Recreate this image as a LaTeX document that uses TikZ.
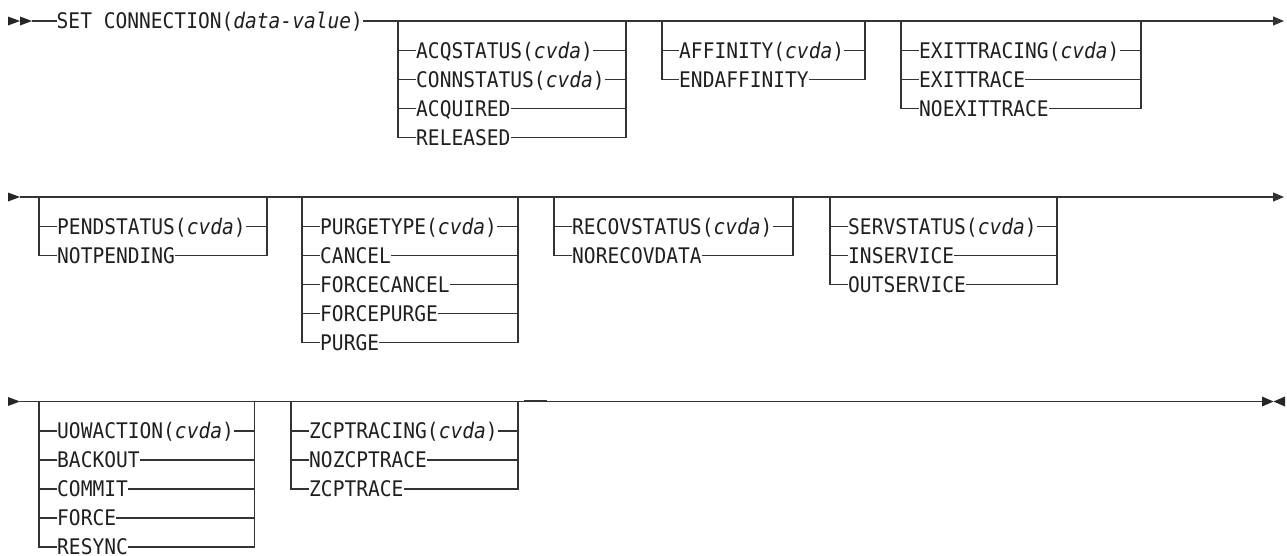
\documentclass[tikz,border=0pt]{standalone}
\usepackage{fontspec}
\newfontfamily\railfont{DejaVu Sans Mono}[FakeStretch=0.91]
\usetikzlibrary{arrows.meta}

\begin{document}
\begin{tikzpicture}[x=1pt, y=-1pt, font=\railfont\fontsize{21.5}{24}\selectfont,
  rail/.style={draw=black!80, line width=1.1pt},
  kw/.style={inner sep=0pt, anchor=west, text height=15.7pt, text depth=0pt, text=black!88},
  tip/.style={fill=black!85}]
  \useasboundingbox (0,0) rectangle (1287,555);
  % row 1
  \fill[tip] (8,16.5) -- (20,21) -- (8,25.5) -- cycle;
  \fill[tip] (20,16.5) -- (32,21) -- (20,25.5) -- cycle;
  \coordinate (start1) at (32,21); \coordinate (end1) at (1284,21);
  \node[kw] (setconn) at (56.5,21) {SET CONNECTION(\textit{data-value})};
  \draw[rail] (start1) -- (setconn.west);
  \draw[rail, -{Triangle[length=11pt,width=9pt]}] (setconn.east) -- (end1);
  \coordinate (g1l) at (398,21); \coordinate (g1r) at (626,21);
  \node[kw] (acqstatus) at (416,50.5) {ACQSTATUS(\textit{cvda})};
  \node[kw] (connstatus) at (416,79.5) {CONNSTATUS(\textit{cvda})};
  \node[kw] (acquired) at (416,108.5) {ACQUIRED};
  \node[kw] (released) at (416,137.5) {RELEASED};
  \draw[rail] (g1l) |- (released.west); \draw[rail] (g1r) |- (released.east);
  \draw[rail] (acqstatus.west -| g1l) -- (acqstatus.west); \draw[rail] (acqstatus.east) -- (acqstatus.east -| g1r);
  \draw[rail] (connstatus.west -| g1l) -- (connstatus.west); \draw[rail] (connstatus.east) -- (connstatus.east -| g1r);
  \draw[rail] (acquired.west -| g1l) -- (acquired.west); \draw[rail] (acquired.east) -- (acquired.east -| g1r);
  \coordinate (g2l) at (662,21); \coordinate (g2r) at (865,21);
  \node[kw] (affinity) at (679,50.5) {AFFINITY(\textit{cvda})};
  \node[kw] (endaffinity) at (679,79.5) {ENDAFFINITY};
  \draw[rail] (g2l) |- (endaffinity.west); \draw[rail] (g2r) |- (endaffinity.east);
  \draw[rail] (affinity.west -| g2l) -- (affinity.west); \draw[rail] (affinity.east) -- (affinity.east -| g2r);
  \coordinate (g3l) at (901,21); \coordinate (g3r) at (1141,21);
  \node[kw] (exittracing) at (919,50.5) {EXITTRACING(\textit{cvda})};
  \node[kw] (exittrace) at (919,79.5) {EXITTRACE};
  \node[kw] (noexittrace) at (919,108.5) {NOEXITTRACE};
  \draw[rail] (g3l) |- (noexittrace.west); \draw[rail] (g3r) |- (noexittrace.east);
  \draw[rail] (exittracing.west -| g3l) -- (exittracing.west); \draw[rail] (exittracing.east) -- (exittracing.east -| g3r);
  \draw[rail] (exittrace.west -| g3l) -- (exittrace.west); \draw[rail] (exittrace.east) -- (exittrace.east -| g3r);
  % row 2
  \fill[tip] (8,192.5) -- (20,197) -- (8,201.5) -- cycle;
  \coordinate (start2) at (20,197); \coordinate (end2) at (1284,197);
  \draw[rail, -{Triangle[length=11pt,width=9pt]}] (start2) -- (end2);
  \coordinate (g4l) at (39,197); \coordinate (g4r) at (267,197);
  \node[kw] (pendstatus) at (57,226.5) {PENDSTATUS(\textit{cvda})};
  \node[kw] (notpending) at (57,255.5) {NOTPENDING};
  \draw[rail] (g4l) |- (notpending.west); \draw[rail] (g4r) |- (notpending.east);
  \draw[rail] (pendstatus.west -| g4l) -- (pendstatus.west); \draw[rail] (pendstatus.east) -- (pendstatus.east -| g4r);
  \coordinate (g5l) at (302,197); \coordinate (g5r) at (518,197);
  \node[kw] (purgetype) at (320,226.5) {PURGETYPE(\textit{cvda})};
  \node[kw] (cancel) at (320,255.5) {CANCEL};
  \node[kw] (forcecancel) at (320,284.5) {FORCECANCEL};
  \node[kw] (forcepurge) at (320,313.5) {FORCEPURGE};
  \node[kw] (purge) at (320,342.5) {PURGE};
  \draw[rail] (g5l) |- (purge.west); \draw[rail] (g5r) |- (purge.east);
  \draw[rail] (purgetype.west -| g5l) -- (purgetype.west); \draw[rail] (purgetype.east) -- (purgetype.east -| g5r);
  \draw[rail] (cancel.west -| g5l) -- (cancel.west); \draw[rail] (cancel.east) -- (cancel.east -| g5r);
  \draw[rail] (forcecancel.west -| g5l) -- (forcecancel.west); \draw[rail] (forcecancel.east) -- (forcecancel.east -| g5r);
  \draw[rail] (forcepurge.west -| g5l) -- (forcepurge.west); \draw[rail] (forcepurge.east) -- (forcepurge.east -| g5r);
  \coordinate (g6l) at (554,197); \coordinate (g6r) at (793,197);
  \node[kw] (recovstatus) at (572,226.5) {RECOVSTATUS(\textit{cvda})};
  \node[kw] (norecovdata) at (572,255.5) {NORECOVDATA};
  \draw[rail] (g6l) |- (norecovdata.west); \draw[rail] (g6r) |- (norecovdata.east);
  \draw[rail] (recovstatus.west -| g6l) -- (recovstatus.west); \draw[rail] (recovstatus.east) -- (recovstatus.east -| g6r);
  \coordinate (g7l) at (830,197); \coordinate (g7r) at (1057,197);
  \node[kw] (servstatus) at (848,226.5) {SERVSTATUS(\textit{cvda})};
  \node[kw] (inservice) at (848,255.5) {INSERVICE};
  \node[kw] (outservice) at (848,284.5) {OUTSERVICE};
  \draw[rail] (g7l) |- (outservice.west); \draw[rail] (g7r) |- (outservice.east);
  \draw[rail] (servstatus.west -| g7l) -- (servstatus.west); \draw[rail] (servstatus.east) -- (servstatus.east -| g7r);
  \draw[rail] (inservice.west -| g7l) -- (inservice.west); \draw[rail] (inservice.east) -- (inservice.east -| g7r);
  % row 3
  \fill[tip] (8,397) -- (20,401.5) -- (8,406) -- cycle;
  \coordinate (start3) at (20,401.5); \coordinate (end3) at (1262,401.5);
  \draw[rail] (start3) -- (end3);
  \fill[tip] (1262,396.5) -- (1273.5,401.5) -- (1262,406.5) -- cycle;
  \fill[tip] (1285,396.5) -- (1273.5,401.5) -- (1285,406.5) -- cycle;
  \coordinate (g8l) at (39,401.5); \coordinate (g8r) at (254.5,401.5);
  \node[kw] (uowaction) at (57,431) {UOWACTION(\textit{cvda})};
  \node[kw] (backout) at (57,460) {BACKOUT};
  \node[kw] (commit) at (57,489) {COMMIT};
  \node[kw] (force) at (57,518) {FORCE};
  \node[kw] (resync) at (57,547) {RESYNC};
  \draw[rail] (g8l) |- (resync.west); \draw[rail] (g8r) |- (resync.east);
  \draw[rail] (uowaction.west -| g8l) -- (uowaction.west); \draw[rail] (uowaction.east) -- (uowaction.east -| g8r);
  \draw[rail] (backout.west -| g8l) -- (backout.west); \draw[rail] (backout.east) -- (backout.east -| g8r);
  \draw[rail] (commit.west -| g8l) -- (commit.west); \draw[rail] (commit.east) -- (commit.east -| g8r);
  \draw[rail] (force.west -| g8l) -- (force.west); \draw[rail] (force.east) -- (force.east -| g8r);
  \coordinate (g9l) at (291,401.5); \coordinate (g9r) at (518,401.5);
  \node[kw] (zcptracing) at (309,431) {ZCPTRACING(\textit{cvda})};
  \node[kw] (nozcptrace) at (309,460) {NOZCPTRACE};
  \node[kw] (zcptrace) at (309,489) {ZCPTRACE};
  \draw[rail] (g9l) |- (zcptrace.west); \draw[rail] (g9r) |- (zcptrace.east);
  \draw[rail] (zcptracing.west -| g9l) -- (zcptracing.west); \draw[rail] (zcptracing.east) -- (zcptracing.east -| g9r);
  \draw[rail] (nozcptrace.west -| g9l) -- (nozcptrace.west); \draw[rail] (nozcptrace.east) -- (nozcptrace.east -| g9r);
  \draw[rail, line width=2.4pt] (524,400.8) -- (547,400.8);
\end{tikzpicture}
\end{document}
